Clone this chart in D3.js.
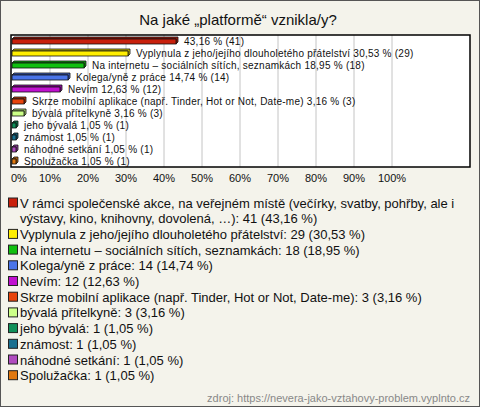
<!DOCTYPE html>
<html><head><meta charset="utf-8">
<script src="https://cdn.jsdelivr.net/npm/d3@7"></script>
<style>
html,body{margin:0;padding:0;background:#f4f3eb;}
svg{display:block;font-family:"Liberation Sans",Arial,sans-serif;}
</style></head>
<body>
<svg id="c" width="480" height="407"></svg>
<script>
const title = "Na jaké „platformě“ vznikla/y?";
const categories = [
  "V rámci společenské akce, na veřejném místě (večírky, svatby, pohřby, ale i výstavy, kino, knihovny, dovolená, …)",
  "Vyplynula z jeho/jejího dlouholetého přátelství",
  "Na internetu – sociálních sítích, seznamkách",
  "Kolega/yně z práce",
  "Nevím",
  "Skrze mobilní aplikace (např. Tinder, Hot or Not, Date-me)",
  "bývalá přítelkyně",
  "jeho bývalá",
  "známost",
  "náhodné setkání",
  "Spolužačka"
];
const barLabelNames = ["", "Vyplynula z jeho/jejího dlouholetého přátelství", "Na internetu – sociálních sítích, seznamkách",
  "Kolega/yně z práce", "Nevím", "Skrze mobilní aplikace (např. Tinder, Hot or Not, Date-me)", "bývalá přítelkyně",
  "jeho bývalá", "známost", "náhodné setkání", "Spolužačka"];
const counts = [41, 29, 18, 14, 12, 3, 3, 1, 1, 1, 1];
const percents = [43.16, 30.53, 18.95, 14.74, 12.63, 3.16, 3.16, 1.05, 1.05, 1.05, 1.05];
const colors = ["#c8200c", "#ffee00", "#10c010", "#4a74e8", "#c010d0", "#e8440c", "#ccff88", "#10905a", "#1a7090", "#b04cc0", "#e07810"];
const tickValues = [0, 10, 20, 30, 40, 50, 60, 70, 80, 90, 100];
const source = "zdroj: https://nevera-jako-vztahovy-problem.vyplnto.cz";

const svg = d3.select("#c");
const W = 480, H = 407;
svg.append("rect").attr("x", 0.5).attr("y", 0.5).attr("width", W - 1).attr("height", H - 1)
  .attr("fill", "#f4f3eb").attr("stroke", "#555");

svg.append("text").attr("x", 238).attr("y", 25).attr("text-anchor", "middle")
  .attr("font-size", 15).attr("fill", "#111").text(title);

const plot = {l: 11, t: 35, r: 470, b: 167};
const x = d3.scaleLinear().domain([0, 100]).range([12, 392]);
const y = d3.scaleBand().domain(d3.range(categories.length)).range([plot.t, plot.b]);

svg.append("rect").attr("x", plot.l).attr("y", plot.t).attr("width", plot.r - plot.l).attr("height", plot.b - plot.t)
  .attr("fill", "#fff");
svg.append("g").selectAll("line").data(tickValues.slice(1)).join("line")
  .attr("x1", d => x(d)).attr("x2", d => x(d)).attr("y1", plot.t).attr("y2", plot.b)
  .attr("stroke", "#c4c4c4").attr("stroke-width", 1);

const fmt = v => d3.format(".2f")(v).replace(".", ",");
const dp = 2, bh = 5;
const g = svg.append("g");
categories.forEach((c, i) => {
  const cy = y(i) + y.bandwidth() / 2;
  const x0 = x(0), x1 = x(percents[i]);
  const top = cy - bh / 2 + 0.5, bot = top + bh;
  const col = d3.color(colors[i]);
  g.append("path")
    .attr("d", `M${x0},${top} L${x0 + dp},${top - dp} L${x1 + dp},${top - dp} L${x1 + dp},${bot - dp} L${x1},${bot} L${x1},${top} Z`)
    .attr("fill", col.darker(0.6)).attr("stroke", "#111").attr("stroke-width", 0.8);
  g.append("rect").attr("x", x0).attr("y", top).attr("width", x1 - x0).attr("height", bh)
    .attr("fill", col).attr("stroke", "#111").attr("stroke-width", 0.8);
  const lbl = (barLabelNames[i] ? barLabelNames[i] + " " : "") + fmt(percents[i]) + " % (" + counts[i] + ")";
  g.append("text").attr("x", x1 + dp + 6).attr("y", cy + 3.8).attr("font-size", 10)
    .attr("letter-spacing", 0.25).attr("fill", "#111").text(lbl);
});

svg.append("rect").attr("x", plot.l).attr("y", plot.t).attr("width", plot.r - plot.l).attr("height", plot.b - plot.t)
  .attr("fill", "none").attr("stroke", "#000").attr("stroke-width", 1.5);

svg.append("g").selectAll("text").data(tickValues).join("text")
  .attr("x", d => d === 0 ? x(d) - 1 : x(d)).attr("y", 182)
  .attr("text-anchor", d => d === 0 ? "start" : "middle")
  .attr("font-size", 11).attr("fill", "#111").text(d => d + "%");

// legend
const lg = svg.append("g");
const lh = 15.7, maxW = 450;
let ly = 207.5;
categories.forEach((c, i) => {
  const full = c + ": " + counts[i] + " (" + fmt(percents[i]) + " %)";
  lg.append("rect").attr("x", 8.5).attr("y", ly - 9.5).attr("width", 9).attr("height", 9)
    .attr("fill", colors[i]).attr("stroke", "#222").attr("stroke-width", 1);
  const words = full.split(" ");
  let line = "";
  const t = lg.append("text").attr("font-size", 13).attr("fill", "#111");
  const lines = [];
  words.forEach(w => {
    const test = line ? line + " " + w : w;
    t.text(test);
    if (t.node().getComputedTextLength() > maxW && line) { lines.push(line); line = w; }
    else line = test;
  });
  lines.push(line);
  t.text(null);
  lines.forEach((ln, k) => {
    t.append("tspan").attr("x", 20).attr("y", ly + k * lh).text(ln);
  });
  ly += lines.length * lh;
});

svg.append("text").attr("x", 470).attr("y", 402).attr("text-anchor", "end")
  .attr("font-size", 11).attr("fill", "#888").text(source);
</script>
</body></html>
